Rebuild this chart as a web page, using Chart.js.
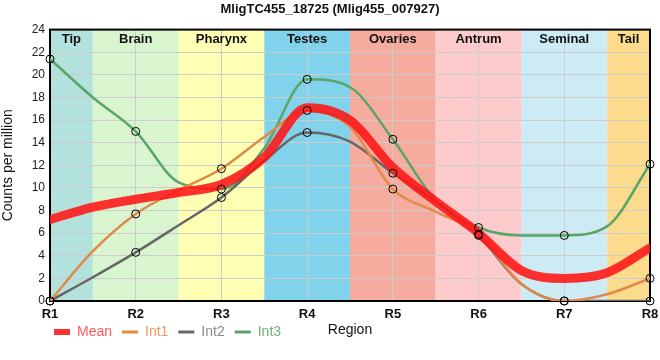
<!DOCTYPE html>
<html>
<head>
<meta charset="utf-8">
<script src="https://cdn.jsdelivr.net/npm/chart.js@4"></script>
<style>
  html, body { margin: 0; padding: 0; background: #fff; }
</style>
</head>
<body>
<canvas id="chart" width="660" height="360"></canvas>
<script>
// positions along the body axis: R1..R8 plus the band borders in between
var steps = [1, 1.5, 2, 2.5, 3, 3.5, 4, 4.5, 5, 5.5, 6, 6.5, 7, 7.5, 8];
var regions = ['R1', 'R2', 'R3', 'R4', 'R5', 'R6', 'R7', 'R8'];

var mean = [7.2, 8.3, 9.0, 9.6, 10.3, 12.7, 17.1, 16.0, 11.8, 8.8, 6.0, 2.7, 2.0, 2.5, 4.7];
var int1 = [0, 4.4, 7.7, 9.8, 11.7, 14.5, 16.85, 15.4, 9.9, 7.9, 5.9, 1.5, 0, 0.6, 2.0];
var int2 = [0, 2.1, 4.3, 6.7, 9.15, 12.4, 14.9, 14.1, 11.3, 8.8, 5.8, 1.5, 0, 0, 0];
var int3 = [21.4, 18.0, 15.0, 10.5, 9.9, 13.5, 19.6, 18.9, 14.3, 8.9, 6.5, 5.8, 5.8, 6.6, 12.1];

var bands = ['Tip', 'Brain', 'Pharynx', 'Testes', 'Ovaries', 'Antrum', 'Seminal', 'Tail'];
var bandFrom = [1, 1.5, 2.5, 3.5, 4.5, 5.5, 6.5, 7.5];
var bandTo = [1.5, 2.5, 3.5, 4.5, 5.5, 6.5, 7.5, 8];
var bandColors = ['#b3e2dd', '#d9f5d0', '#ffffb4', '#80d3ea', '#f5ab9d', '#fdcbcc', '#cdebf4', '#fddb8d'];

var names = ['Mean', 'Int1', 'Int2', 'Int3'];
var lineColors = ['rgba(255,20,20,0.88)', '#e08a4a', '#666666', '#5ba468'];
var textColors = ['#ff5a5a', '#e79a62', '#8a8a8a', '#6fb07a'];

function pts(arr) {
  return steps.map(function(s, i) { return {x: s, y: arr[i]}; });
}
function markers(arr) {
  return pts(arr).filter(function(p) { return Number.isInteger(p.x); });
}

var bandPlugin = {
  id: 'bands',
  beforeDraw: function(chart) {
    var ctx = chart.ctx, a = chart.chartArea, x = chart.scales.x;
    ctx.save();
    for (var i = 0; i < bands.length; i++) {
      var x0 = x.getPixelForValue(bandFrom[i]);
      var x1 = x.getPixelForValue(bandTo[i]);
      ctx.fillStyle = bandColors[i];
      ctx.fillRect(x0, a.top, x1 - x0, a.bottom - a.top);
    }
    ctx.restore();
  },
  beforeDatasetsDraw: function(chart) {
    var ctx = chart.ctx, a = chart.chartArea, x = chart.scales.x;
    ctx.save();
    ctx.fillStyle = '#111';
    ctx.font = 'bold 13px "Liberation Sans", Arial, sans-serif';
    ctx.textAlign = 'center';
    ctx.textBaseline = 'middle';
    for (var i = 0; i < bands.length; i++) {
      var cx = (x.getPixelForValue(bandFrom[i]) + x.getPixelForValue(bandTo[i])) / 2;
      ctx.fillText(bands[i], cx, a.top + 10);
    }
    ctx.strokeStyle = '#000';
    ctx.lineWidth = 2;
    ctx.strokeRect(a.left, a.top, a.right - a.left, a.bottom - a.top);
    ctx.restore();
  },
  afterDraw: function(chart) {
    var ctx = chart.ctx, a = chart.chartArea;
    ctx.save();
    ctx.fillStyle = '#111';
    ctx.font = '14px "Liberation Sans", Arial, sans-serif';
    ctx.textAlign = 'center';
    ctx.textBaseline = 'middle';
    ctx.fillText('Region', (a.left + a.right) / 2, 330);
    ctx.restore();
  },
  afterLayout: function(chart) {
    // legend shares its row with the axis title
    chart.legend.left = 44;
    chart.legend.top = 315;
  }
};

var lineBase = {
  fill: false,
  pointRadius: 0,
  pointHoverRadius: 0,
  cubicInterpolationMode: 'monotone',
  borderCapStyle: 'round'
};

function lineSet(i, arr, width, order) {
  return Object.assign({}, lineBase, {
    label: names[i],
    data: pts(arr),
    borderColor: lineColors[i],
    borderWidth: width,
    order: order
  });
}
function markerSet(arr) {
  return {
    label: 'markers',
    data: markers(arr),
    showLine: false,
    clip: false,
    pointRadius: 4,
    pointBorderWidth: 1,
    pointBorderColor: '#000',
    pointBackgroundColor: 'rgba(0,0,0,0)',
    order: 0
  };
}

new Chart(document.getElementById('chart'), {
  type: 'line',
  data: {
    datasets: [
      lineSet(0, mean, 9, 1),
      lineSet(1, int1, 2.5, 2),
      lineSet(2, int2, 2.5, 2),
      lineSet(3, int3, 2.5, 2),
      markerSet(int1),
      markerSet(int2),
      markerSet(int3)
    ]
  },
  options: {
    responsive: false,
    animation: false,
    layout: { padding: { left: 0, right: 0, top: 0, bottom: 0 } },
    scales: {
      x: {
        type: 'linear',
        min: 1,
        max: 8,
        afterFit: function(s) {
          s.height = 25;
          s.paddingLeft = 0;
          s.paddingRight = 10;
        },
        border: { display: false },
        grid: { color: '#cccccc', drawTicks: false },
        ticks: {
          stepSize: 1,
          padding: 6,
          color: '#111',
          font: { family: '"Liberation Sans", Arial, sans-serif', size: 13, weight: 'bold' },
          callback: function(v) { return regions[v - 1]; }
        }
      },
      y: {
        min: 0,
        max: 24,
        afterFit: function(s) { s.width = 50; },
        border: { display: false },
        grid: { color: '#cccccc', drawTicks: false },
        ticks: {
          stepSize: 2,
          padding: 5,
          color: '#222',
          font: { family: '"Liberation Sans", Arial, sans-serif', size: 12 }
        },
        title: {
          display: true,
          text: 'Counts per million',
          color: '#111',
          padding: { top: 0, bottom: 4 },
          font: { family: '"Liberation Sans", Arial, sans-serif', size: 14 }
        }
      }
    },
    plugins: {
      title: {
        display: true,
        text: 'MligTC455_18725 (Mlig455_007927)',
        color: '#111',
        padding: { top: 2, bottom: 12 },
        font: { family: '"Liberation Sans", Arial, sans-serif', size: 13, weight: 'bold' }
      },
      legend: {
        position: 'bottom',
        align: 'start',
        labels: {
          usePointStyle: true,
          pointStyleWidth: 16,
          padding: 10,
          font: { family: '"Liberation Sans", Arial, sans-serif', size: 14 },
          generateLabels: function(chart) {
            return names.map(function(n, i) {
              return {
                text: n,
                fillStyle: lineColors[i],
                strokeStyle: i === 0 ? '#ff3030' : lineColors[i],
                lineWidth: i === 0 ? 6 : 3,
                pointStyle: 'line',
                fontColor: textColors[i],
                datasetIndex: i
              };
            });
          }
        }
      },
      tooltip: { enabled: false }
    }
  },
  plugins: [bandPlugin]
});
</script>
</body>
</html>
